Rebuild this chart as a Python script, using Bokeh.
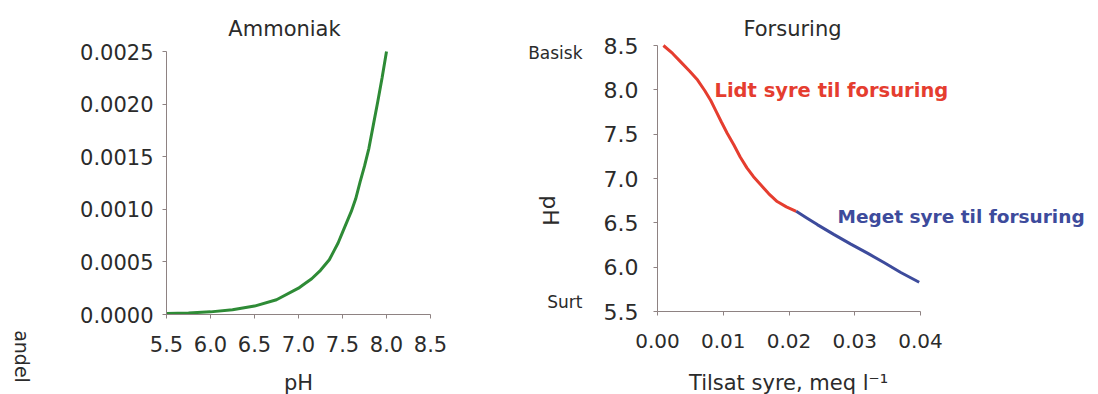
import math
from bokeh.plotting import figure
from bokeh.layouts import row
from bokeh.models import Range1d, FixedTicker, NumeralTickFormatter, Label
from bokeh.embed import file_html
from bokeh.resources import INLINE

FONT = "DejaVu Sans"

# ---- Ammoniak (left) ----
amm_ph = [5.5, 5.75, 6.0, 6.25, 6.5, 6.75, 7.0, 7.05, 7.15, 7.25, 7.35, 7.4, 7.45, 7.5,
          7.55, 7.6, 7.65, 7.7, 7.75, 7.8, 7.85, 7.9, 7.95, 8.0]
amm_andel = [0.00001, 0.000015, 0.000025, 0.000045, 0.00008, 0.00014, 0.00025, 0.00028,
             0.00034, 0.00042, 0.00052, 0.0006, 0.00068, 0.00078, 0.00088, 0.00098,
             0.0011, 0.00126, 0.00141, 0.00158, 0.0018, 0.00202, 0.00225, 0.0025]
amm_xticks = [5.5, 6.0, 6.5, 7.0, 7.5, 8.0, 8.5]
amm_yticks = [0.0, 0.0005, 0.001, 0.0015, 0.002, 0.0025]

# ---- Forsuring (right) ----
red_acid = [0.0009, 0.0023, 0.0036, 0.0049, 0.0061, 0.0072, 0.0081, 0.0089, 0.0097, 0.0106,
            0.0116, 0.0126, 0.0136, 0.0146, 0.0157, 0.0169, 0.0182, 0.0196, 0.0211]
red_ph = [8.50, 8.41, 8.31, 8.21, 8.11, 7.99, 7.88, 7.76, 7.64, 7.51,
          7.38, 7.24, 7.12, 7.02, 6.93, 6.83, 6.74, 6.68, 6.63]
blue_acid = [0.0211, 0.0227, 0.0243, 0.0268, 0.0294, 0.0320, 0.0345, 0.0370, 0.0398]
blue_ph = [6.63, 6.555, 6.48, 6.37, 6.26, 6.155, 6.05, 5.94, 5.83]
fors_xticks = [0.0, 0.01, 0.02, 0.03, 0.04]
fors_yticks = [5.5, 6.0, 6.5, 7.0, 7.5, 8.0, 8.5]

AXIS_COLOR = "#8e8282"
TEXT_COLOR = "#2b2b2b"
H = 394


class Mapper:
    """Frame fills the canvas; data x0..x1 sit at canvas px x0_px..x1_px (y px from top)."""

    def __init__(self, canvas_w, x0_px, x1_px, x0, x1, y0_px, y1_px, y0, y1):
        self.x0_px, self.x0, self.y0_px, self.y0 = x0_px, x0, y0_px, y0
        self.sx = (x1 - x0) / (x1_px - x0_px)
        self.sy = (y1 - y0) / (y0_px - y1_px)
        self.xr = Range1d(x0 - x0_px * self.sx, x0 + (canvas_w - x0_px) * self.sx)
        self.yr = Range1d(y0 - (H - y0_px) * self.sy, y0 + y0_px * self.sy)

    def x(self, px):
        return self.x0 + (px - self.x0_px) * self.sx

    def y(self, py):
        return self.y0 + (self.y0_px - py) * self.sy


def style(p, xfmt, yfmt, xticks, yticks, fs_x, fs_y, xfix, yfix, xb, yb, xso, yso):
    p.xgrid.visible = False
    p.ygrid.visible = False
    p.outline_line_color = None
    p.background_fill_color = "white"
    p.border_fill_color = "white"
    p.xaxis.ticker = FixedTicker(ticks=xticks)
    p.yaxis.ticker = FixedTicker(ticks=yticks)
    p.xaxis.formatter = NumeralTickFormatter(format=xfmt)
    p.yaxis.formatter = NumeralTickFormatter(format=yfmt)
    p.xaxis.fixed_location = xfix
    p.yaxis.fixed_location = yfix
    p.xaxis.bounds = xb
    p.yaxis.bounds = yb
    for ax in (p.xaxis[0], p.yaxis[0]):
        ax.axis_line_color = AXIS_COLOR
        ax.axis_line_width = 1
        ax.major_tick_line_color = AXIS_COLOR
        ax.major_tick_in = 0
        ax.major_tick_out = 4
        ax.minor_tick_line_color = None
        ax.major_label_text_font = FONT
        ax.major_label_text_color = TEXT_COLOR
    p.xaxis.major_label_text_font_size = fs_x
    p.yaxis.major_label_text_font_size = fs_y
    p.xaxis.major_label_standoff = xso
    p.yaxis.major_label_standoff = yso


BASE_SHIFT = 7  # alphabetic labels render this many px lower than requested


def txt(p, m, px, py, text, size, color=TEXT_COLOR, align="center", baseline="alphabetic",
        angle=0.0, bold=False):
    if baseline == "alphabetic":
        py -= BASE_SHIFT
    p.add_layout(Label(x=m.x(px), y=m.y(py), text=text, text_font=FONT, text_font_size=size,
                       text_color=color, text_align=align, text_baseline=baseline,
                       angle=angle, text_font_style="bold" if bold else "normal"))


# Left figure: canvas x 0..500
W1 = 500
m1 = Mapper(W1, 166, 430, 5.5, 8.5, 314, 51, 0.0, 0.0025)
p1 = figure(width=W1, height=H, output_backend="svg", toolbar_location=None,
            x_range=m1.xr, y_range=m1.yr,
            min_border_left=0, min_border_right=0, min_border_top=0, min_border_bottom=0)
style(p1, "0.0", "0.0000", amm_xticks, amm_yticks, "21px", "21px",
      0.0, 5.5, (5.5, 8.5), (0.0, 0.0025), 17, 9)
p1.line(amm_ph, amm_andel, line_color="#2e8b36", line_width=3)

txt(p1, m1, 284, 35, "Ammoniak", "21px")
txt(p1, m1, 298, 389, "pH", "21px")
txt(p1, m1, 21, 356, "andel", "19px", baseline="middle", angle=-math.pi / 2)

# Right figure: canvas x 500..1098 (pixel anchors given in canvas coords = page - 500)
W2 = 598
OFF = 500
m2 = Mapper(W2, 657 - OFF, 920 - OFF, 0.0, 0.04, 311, 45, 5.5, 8.5)
p2 = figure(width=W2, height=H, output_backend="svg", toolbar_location=None,
            x_range=m2.xr, y_range=m2.yr,
            min_border_left=0, min_border_right=0, min_border_top=0, min_border_bottom=0)
style(p2, "0.00", "0.0", fors_xticks, fors_yticks, "20px", "22px",
      5.5, 0.0, (0.0, 0.04), (5.5, 8.5), 18, 15)
p2.line(red_acid, red_ph, line_color="#e53d2f", line_width=3)
p2.line(blue_acid, blue_ph, line_color="#3d4b9c", line_width=3)

txt(p2, m2, 792 - OFF, 35, "Forsuring", "21px")
txt(p2, m2, 714 - OFF, 97, "Lidt syre til forsuring", "19.5px", color="#e53d2f",
    align="left", bold=True)
txt(p2, m2, 837 - OFF, 223, "Meget syre til forsuring", "18.5px", color="#3d4b9c",
    align="left", bold=True)
txt(p2, m2, 582 - OFF, 59, "Basisk", "17px", align="right")
txt(p2, m2, 582 - OFF, 308, "Surt", "17px", align="right")
txt(p2, m2, 550 - OFF, 210, "pH", "22px", baseline="middle", angle=-math.pi / 2)
txt(p2, m2, 788 - OFF, 389, "Tilsat syre, meq l\u207b\u00b9", "21px")

layout = row(p1, p2)
open("out.html", "w").write(file_html(layout, INLINE))
